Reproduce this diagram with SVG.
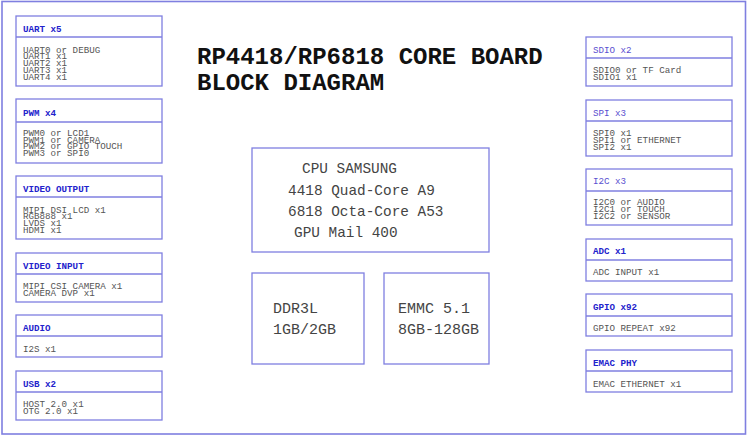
<svg xmlns="http://www.w3.org/2000/svg" width="750" height="437" viewBox="0 0 750 437">
<style>
.box{fill:#fff;stroke:#7f7fe0;stroke-width:1.3}
.div{stroke:#7f7fe0;stroke-width:1.3}
.hd{font-family:"Liberation Mono","Courier New",monospace;font-size:9.2px;font-weight:bold;fill:#2222cc}
.hl{font-family:"Liberation Mono","Courier New",monospace;font-size:9.2px;fill:#5a4fd0}
.bd{font-family:"Liberation Mono","Courier New",monospace;font-size:9.2px;fill:#555}
.title{font-family:"Liberation Mono","Courier New",monospace;font-size:24px;font-weight:bold;fill:#111}
.core{font-family:"Liberation Mono","Courier New",monospace;font-size:14.4px;fill:#444}
.mem{font-family:"Liberation Mono","Courier New",monospace;font-size:15px;fill:#444}
</style>
<rect x="0" y="0" width="750" height="437" fill="#fff"/>
<rect id="frame" x="2" y="1.5" width="743.5" height="432.5" fill="none" stroke="#7f7fe0" stroke-width="1.6"/>
<g id="title">
<text class="title" x="197" y="64">RP4418/RP6818 CORE BOARD</text>
<text class="title" x="197" y="90">BLOCK DIAGRAM</text>
</g>
<g id="connectors"></g>
<g id="uart">
<rect class="box" x="16" y="16" width="146" height="70"/>
<line class="div" x1="16" y1="37" x2="162" y2="37"/>
<text class="hd" x="23" y="32">UART x5</text>
<text class="bd" x="23" y="52.5">UART0 or DEBUG</text>
<text class="bd" x="23" y="59.3">UART1 x1</text>
<text class="bd" x="23" y="66.1">UART2 x1</text>
<text class="bd" x="23" y="72.9">UART3 x1</text>
<text class="bd" x="23" y="79.7">UART4 x1</text>
</g>
<g id="pwm">
<rect class="box" x="16" y="99" width="146" height="64"/>
<line class="div" x1="16" y1="122" x2="162" y2="122"/>
<text class="hd" x="23" y="115.5">PWM x4</text>
<text class="bd" x="23" y="136">PWM0 or LCD1</text>
<text class="bd" x="23" y="142.7">PWM1 or CAMERA</text>
<text class="bd" x="23" y="149.4">PWM2 or GPIO TOUCH</text>
<text class="bd" x="23" y="156.1">PWM3 or SPI0</text>
</g>
<g id="video-output">
<rect class="box" x="16" y="176" width="146" height="63"/>
<line class="div" x1="16" y1="197" x2="162" y2="197"/>
<text class="hd" x="23" y="191.5">VIDEO OUTPUT</text>
<text class="bd" x="23" y="212.5">MIPI DSI LCD x1</text>
<text class="bd" x="23" y="219.3">RGB888 x1</text>
<text class="bd" x="23" y="226.1">LVDS x1</text>
<text class="bd" x="23" y="232.9">HDMI x1</text>
</g>
<g id="video-input">
<rect class="box" x="16" y="253" width="146" height="49"/>
<line class="div" x1="16" y1="274" x2="162" y2="274"/>
<text class="hd" x="23" y="268.5">VIDEO INPUT</text>
<text class="bd" x="23" y="289">MIPI CSI CAMERA x1</text>
<text class="bd" x="23" y="295.8">CAMERA DVP x1</text>
</g>
<g id="audio">
<rect class="box" x="16" y="315" width="146" height="42"/>
<line class="div" x1="16" y1="336" x2="162" y2="336"/>
<text class="hd" x="23" y="331">AUDIO</text>
<text class="bd" x="23" y="351.5">I2S x1</text>
</g>
<g id="usb">
<rect class="box" x="16" y="371" width="146" height="49"/>
<line class="div" x1="16" y1="392" x2="162" y2="392"/>
<text class="hd" x="23" y="387">USB x2</text>
<text class="bd" x="23" y="407">HOST 2.0 x1</text>
<text class="bd" x="23" y="413.8">OTG 2.0 x1</text>
</g>
<g id="sdio">
<rect class="box" x="586" y="37" width="146" height="49"/>
<line class="div" x1="586" y1="58" x2="732" y2="58"/>
<text class="hl" x="593" y="52.5">SDIO x2</text>
<text class="bd" x="593" y="72.5">SDIO0 or TF Card</text>
<text class="bd" x="593" y="79.8">SDIO1 x1</text>
</g>
<g id="spi">
<rect class="box" x="586" y="100" width="146" height="56"/>
<line class="div" x1="586" y1="121" x2="732" y2="121"/>
<text class="hl" x="593" y="115.5">SPI x3</text>
<text class="bd" x="593" y="135.5">SPI0 x1</text>
<text class="bd" x="593" y="142.7">SPI1 or ETHERNET</text>
<text class="bd" x="593" y="149.9">SPI2 x1</text>
</g>
<g id="i2c">
<rect class="box" x="586" y="169" width="146" height="56"/>
<line class="div" x1="586" y1="191" x2="732" y2="191"/>
<text class="hl" x="593" y="184">I2C x3</text>
<text class="bd" x="593" y="205">I2C0 or AUDIO</text>
<text class="bd" x="593" y="212">I2C1 or TOUCH</text>
<text class="bd" x="593" y="219">I2C2 or SENSOR</text>
</g>
<g id="adc">
<rect class="box" x="586" y="239" width="146" height="42"/>
<line class="div" x1="586" y1="260" x2="732" y2="260"/>
<text class="hd" x="593" y="254">ADC x1</text>
<text class="bd" x="593" y="275">ADC INPUT x1</text>
</g>
<g id="gpio">
<rect class="box" x="586" y="294" width="146" height="42"/>
<line class="div" x1="586" y1="316" x2="732" y2="316"/>
<text class="hd" x="593" y="310">GPIO x92</text>
<text class="bd" x="593" y="331">GPIO REPEAT x92</text>
</g>
<g id="emac">
<rect class="box" x="586" y="350" width="146" height="42"/>
<line class="div" x1="586" y1="371" x2="732" y2="371"/>
<text class="hd" x="593" y="365.5">EMAC PHY</text>
<text class="bd" x="593" y="386.5">EMAC ETHERNET x1</text>
</g>
<g id="cpu">
<rect class="box" x="252" y="148" width="237" height="104"/>
<text class="core" x="302" y="173">CPU SAMSUNG</text>
<text class="core" x="288" y="195">4418 Quad-Core A9</text>
<text class="core" x="288" y="216">6818 Octa-Core A53</text>
<text class="core" x="294" y="237">GPU Mail 400</text>
</g>
<g id="ddr">
<rect class="box" x="252" y="273" width="112" height="91"/>
<text class="mem" x="273" y="313">DDR3L</text>
<text class="mem" x="273" y="334">1GB/2GB</text>
</g>
<g id="emmc">
<rect class="box" x="384" y="273" width="105" height="91"/>
<text class="mem" x="398" y="313">EMMC 5.1</text>
<text class="mem" x="398" y="334">8GB-128GB</text>
</g>
</svg>
